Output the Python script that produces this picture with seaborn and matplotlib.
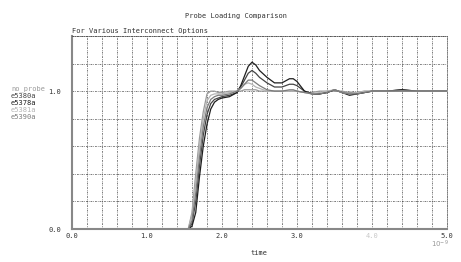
import matplotlib
matplotlib.use("Agg")
import matplotlib.pyplot as plt
import numpy as np
import pandas as pd
import seaborn as sns

# ---- data (time in ns, values normalised) ----
time_ns = [0.0, 1.55, 1.60, 1.65, 1.70, 1.75, 1.80, 1.85, 1.90, 1.95, 2.00, 2.10, 2.20,
           2.25, 2.30, 2.35, 2.40, 2.45, 2.50, 2.60, 2.70, 2.80, 2.90, 2.95, 3.00, 3.10,
           3.20, 3.30, 3.40, 3.50, 3.60, 3.70, 3.80, 3.90, 4.00, 4.20, 4.40, 4.60, 5.00]

no_probe = [0.0, 0.0, 0.12, 0.40, 0.66, 0.85, 0.98, 1.00, 1.00, 0.99, 0.99, 1.00, 1.00,
            1.00, 1.01, 1.01, 1.01, 1.01, 1.00, 1.00, 1.00, 1.00, 1.00, 1.00, 1.00, 0.99,
            0.99, 1.00, 1.00, 1.00, 1.00, 0.99, 0.99, 1.00, 1.00, 1.00, 1.00, 1.00, 1.00]

e5380a = [0.0, 0.0, 0.04, 0.20, 0.46, 0.68, 0.83, 0.91, 0.94, 0.95, 0.96, 0.97, 0.99,
          1.03, 1.08, 1.13, 1.15, 1.13, 1.10, 1.06, 1.03, 1.03, 1.05, 1.05, 1.04, 1.00,
          0.98, 0.98, 0.99, 1.01, 0.99, 0.98, 0.98, 0.99, 1.00, 1.00, 1.01, 1.00, 1.00]

e5378a = [0.0, 0.0, 0.02, 0.12, 0.38, 0.60, 0.76, 0.87, 0.92, 0.94, 0.95, 0.96, 0.99,
          1.04, 1.11, 1.18, 1.21, 1.19, 1.15, 1.10, 1.06, 1.06, 1.09, 1.09, 1.07, 1.00,
          0.98, 0.98, 0.99, 1.01, 0.99, 0.97, 0.98, 0.99, 1.00, 1.00, 1.01, 1.00, 1.00]

e5381a = [0.0, 0.0, 0.10, 0.34, 0.60, 0.80, 0.93, 0.97, 0.98, 0.98, 0.98, 0.99, 1.00,
          1.02, 1.05, 1.06, 1.05, 1.03, 1.02, 1.00, 1.00, 1.00, 1.00, 1.00, 1.00, 0.99,
          0.98, 0.99, 1.00, 1.01, 0.99, 0.98, 0.99, 1.00, 1.00, 1.00, 1.00, 1.00, 1.00]

e5390a = [0.0, 0.0, 0.06, 0.26, 0.52, 0.74, 0.88, 0.94, 0.96, 0.97, 0.97, 0.98, 1.00,
          1.02, 1.05, 1.08, 1.08, 1.06, 1.04, 1.01, 1.00, 1.00, 1.01, 1.01, 1.00, 0.99,
          0.98, 0.98, 0.99, 1.01, 0.99, 0.98, 0.98, 0.99, 1.00, 1.00, 1.00, 1.00, 1.00]

series_names = ["no_probe", "e5380a", "e5378a", "e5381a", "e5390a"]
series_values = [no_probe, e5380a, e5378a, e5381a, e5390a]
series_colors = ["#9a9a9a", "#444444", "#1e1e1e", "#b4b4b4", "#7c7c7c"]

x_tick_values = [0, 1, 2, 3, 4, 5]
x_tick_labels = ["0.0", "1.0", "2.0", "3.0", "4.0", "5.0"]

frames = []
for name, vals in zip(series_names, series_values):
    frames.append(pd.DataFrame({"time": time_ns, "value": vals, "probe": name}))
df = pd.concat(frames, ignore_index=True)

sns.set_style("white")
plt.rcParams["font.family"] = ["DejaVu Sans Mono"]

fig = plt.figure(figsize=(4.61, 2.62), dpi=100)
ax = fig.add_axes([72 / 461, 1 - 229 / 262, 375 / 461, 193 / 262])

sns.lineplot(data=df, x="time", y="value", hue="probe", hue_order=series_names,
             palette=dict(zip(series_names, series_colors)), linewidth=0.9,
             legend=False, ax=ax)

ax.set_xlim(0, 5)
ax.set_ylim(0, 1.4)

gridstyle = (0, (2.5, 1.5, 1, 1.5))
# grid
ax.set_xticks(np.arange(0, 5.0001, 0.2), minor=True)
ax.set_yticks(np.arange(0, 1.4001, 0.2), minor=True)
ax.set_xticks(x_tick_values)
ax.set_xticklabels(x_tick_labels, fontsize=5)
ax.set_yticks([0.0, 1.0])
ax.set_yticklabels(["0.0", "1.0"], fontsize=5)
ax.grid(which="both", color="#444444", linestyle=gridstyle, linewidth=0.5)
ax.set_axisbelow(True)

ax.tick_params(which="both", length=0, pad=3, colors="#333333")
ax.tick_params(axis="y", pad=8)
ax.get_xticklabels()[4].set_color("#c8c8c8")

for s in ["top", "right"]:
    ax.spines[s].set_color("#444444")
    ax.spines[s].set_linewidth(0.5)
    ax.spines[s].set_linestyle(gridstyle)
ax.spines["left"].set_color("#888888")
ax.spines["left"].set_linewidth(1.5)
ax.spines["bottom"].set_color("#888888")
ax.spines["bottom"].set_linewidth(1.5)

ax.set_xlabel("time", fontsize=5, color="#333333", labelpad=8)
ax.set_ylabel("")

fig.text(236 / 461, 1 - 16 / 262, "Probe Loading Comparison", fontsize=5,
         ha="center", va="center", color="#333333")
fig.text(72 / 461, 1 - 31 / 262, "For Various Interconnect Options", fontsize=5,
         ha="left", va="center", color="#333333")
fig.text(440 / 461, 1 - 244 / 262, r"$10^{-9}$", fontsize=5, ha="center",
         va="center", color="#999999")

# labels on the left acting as legend
for i, (name, col) in enumerate(zip(series_names, series_colors)):
    fig.text(11 / 461, 1 - (89 + 7 * i) / 262, name, fontsize=5, ha="left",
             va="center", color=col)

fig.savefig("out.png", dpi=100)
